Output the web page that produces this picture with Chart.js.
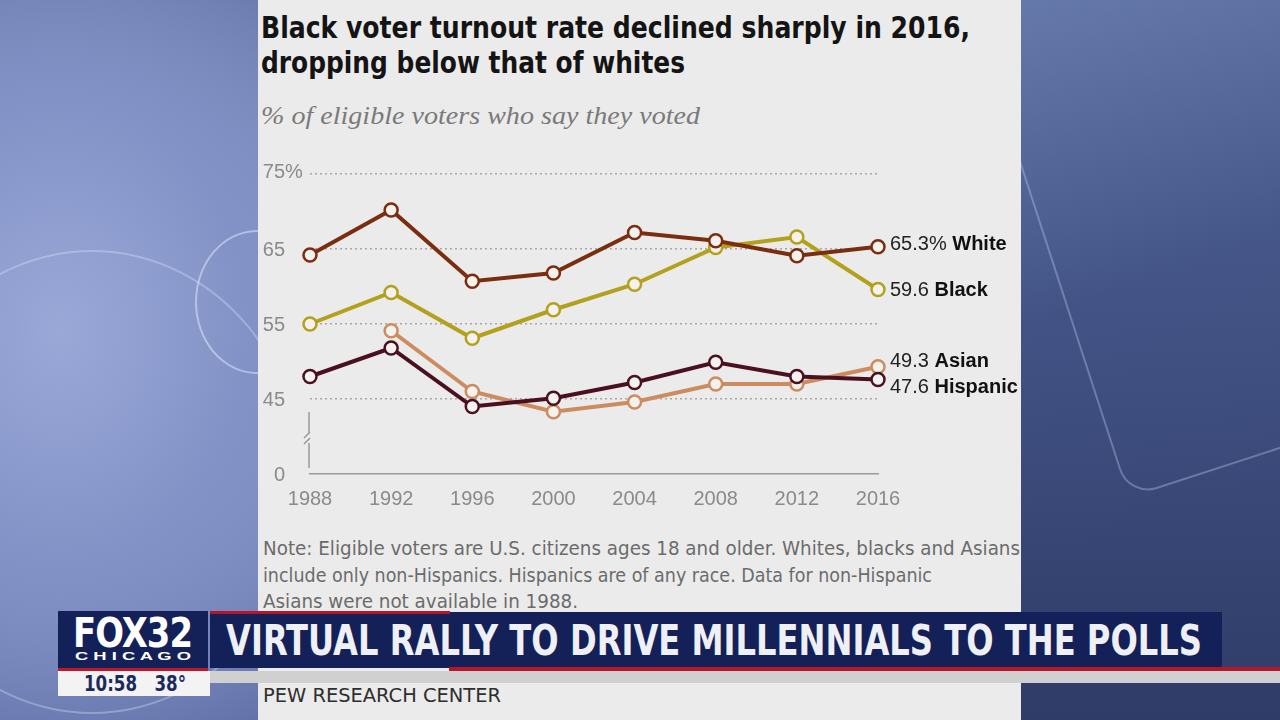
<!DOCTYPE html>
<html>
<head>
<meta charset="utf-8">
<script src="https://cdn.jsdelivr.net/npm/chart.js@4/dist/chart.umd.min.js"></script>
<style>
  html, body { margin: 0; padding: 0; }
  body {
    width: 1280px; height: 720px; overflow: hidden; position: relative;
    background:
      radial-gradient(ellipse 420px 520px at 60px 330px, #9aa8d8 0%, #8392c6 45%, rgba(100,114,168,0) 100%),
      linear-gradient(180deg, #5f6f9f 0%, #7d8dc0 30%, #7586bb 70%, #5a69a0 100%);
    font-family: "Liberation Sans", Arial, sans-serif;
  }
  .abs { position: absolute; }
  .fit { position: absolute; white-space: nowrap; transform-origin: left center; }
  #right-bg {
    left: 1021px; top: 0; width: 259px; height: 720px;
    background:
      linear-gradient(160deg, rgba(120,140,190,0.55) 0%, rgba(70,88,140,0.2) 40%, rgba(40,52,95,0) 70%),
      linear-gradient(180deg, #4f6192 0%, #3f4f80 50%, #2f3c68 100%);
  }
  .ring { position: absolute; border-radius: 50%; border: 2px solid rgba(220,228,255,0.35); }
  #panel { left: 258px; top: 0; width: 763px; height: 720px; background: #ebebeb; }
  .title { font-family: "Liberation Sans Narrow", "DejaVu Sans Condensed", sans-serif; font-weight: bold; font-size: 30px; line-height: 30px; color: #141414; }
  .sub { font-family: "Liberation Serif", "DejaVu Serif", serif; font-style: italic; font-size: 25px; line-height: 28px; color: #7a7a7a; }
  .note { font-family: "Liberation Sans Narrow", "DejaVu Sans Condensed", sans-serif; font-size: 20px; line-height: 26px; color: #6b6b6b; }
  #chart-box { left: 258px; top: 150px; width: 762px; height: 384px; }
  .navy { background: #142058; }
</style>
</head>
<body>
<div id="right-bg" class="abs"></div>
<div class="ring" style="left:-120px; top:250px; width:420px; height:460px;"></div>
<div class="ring" style="left:195px; top:230px; width:120px; height:140px; border-color:rgba(230,235,255,0.5);"></div>
<div class="ring" style="left:1040px; top:-60px; width:300px; height:520px; border-radius:30px; transform:rotate(-18deg); border-color:rgba(200,210,245,0.35);"></div>

<div id="panel" class="abs"></div>

<div class="fit title" data-w="709" style="left:261px; top:13px;">Black voter turnout rate declined sharply in 2016,</div>
<div class="fit title" data-w="424" style="left:261px; top:48px;">dropping below that of whites</div>
<div class="fit sub" data-w="439" style="left:261px; top:102px;">% of eligible voters who say they voted</div>

<div id="chart-box" class="abs"><canvas id="turnoutChart"></canvas></div>

<div class="fit note" data-w="757" style="left:263px; top:535px;">Note: Eligible voters are U.S. citizens ages 18 and older. Whites, blacks and Asians</div>
<div class="fit note" data-w="669" style="left:263px; top:562px;">include only non-Hispanics. Hispanics are of any race. Data for non-Hispanic</div>
<div class="fit note" data-w="315" style="left:263px; top:588px;">Asians were not available in 1988.</div>

<!-- lower third -->
<div class="abs navy" style="left:210px; top:612px; width:1012px; height:56px;"></div>
<div class="abs" style="left:210px; top:611px; width:240px; height:3px; background:#b5162a;"></div>
<div class="abs" style="left:449px; top:667px; width:831px; height:4px; background:#b5162a;"></div>
<div class="abs" style="left:210px; top:671px; width:1070px; height:12px; background:#d0d0d0;"></div>
<div class="fit" data-w="976" style="left:226px; top:618px; line-height:46px; font-family:'Liberation Sans Narrow','DejaVu Sans Condensed',sans-serif; font-weight:bold; font-size:42px; color:#eef0f6;">VIRTUAL RALLY TO DRIVE MILLENNIALS TO THE POLLS</div>

<div class="abs navy" style="left:58px; top:611px; width:150px; height:57px;"></div>
<div class="abs" style="left:58px; top:668px; width:150px; height:3px; background:#c0182a;"></div>
<div class="abs" style="left:58px; top:671px; width:152px; height:25px; background:#f3f3f3;"></div>
<div class="fit" data-w="119" style="left:73px; top:614px; line-height:38px; font-family:'Liberation Sans Narrow','DejaVu Sans Condensed',sans-serif; font-weight:bold; font-size:40px; color:#ffffff; letter-spacing:-1px;">FOX32</div>
<div class="fit" data-w="116" style="left:75px; top:650px; line-height:13px; font-family:'Liberation Sans',sans-serif; font-weight:bold; font-size:11px; color:#ffffff;">C H I C A G O</div>
<div class="fit" data-w="102" style="left:84px; top:672px; line-height:24px; font-family:'Liberation Sans Narrow','DejaVu Sans Condensed',sans-serif; font-weight:bold; font-size:21px; color:#1b2a5c;">10:58&nbsp;&nbsp;&nbsp;38°</div>

<div class="fit" data-w="238" style="left:263px; top:683px; line-height:24px; font-family:'Liberation Sans Narrow','DejaVu Sans Condensed',sans-serif; font-size:20px; color:#2e2e2e;">PEW RESEARCH CENTER</div>

<script>
// data
const years = ["1988", "1992", "1996", "2000", "2004", "2008", "2012", "2016"];
const whiteRate = [64.2, 70.2, 60.7, 61.8, 67.2, 66.1, 64.1, 65.3];
const blackRate = [55.0, 59.2, 53.1, 56.9, 60.3, 65.2, 66.6, 59.6];
const asianRate = [null, 54.1, 46.0, 43.3, 44.6, 47.0, 47.0, 49.3];
const hispanicRate = [48.0, 51.8, 44.0, 45.1, 47.2, 49.9, 48.0, 47.6];
const seriesNames = ["White", "Black", "Asian", "Hispanic"];
const yTicks = [35, 45, 55, 65, 75];
const yTickLabels = ["0", "45", "55", "65", "75"];
const yTopSuffix = "%";

const colors = {
  White: "#7b2d10",
  Black: "#b3a01c",
  Asian: "#cc8c60",
  Hispanic: "#4a1020",
};

// fit text blocks to the widths measured on the reference
function fitText() {
  document.querySelectorAll(".fit").forEach((el) => {
    const target = parseFloat(el.dataset.w);
    const actual = el.getBoundingClientRect().width;
    if (actual > 0) el.style.transform = `scaleX(${target / actual})`;
  });
}

// y labels, axis break and end-of-line labels
const annotate = {
  id: "annotate",
  afterDraw(chart, args, opts) {
    const { ctx, chartArea } = chart;
    const y = chart.scales.y;
    ctx.save();

    // y tick labels
    ctx.font = "20px 'Liberation Sans', Arial, sans-serif";
    ctx.fillStyle = "#8a8a8a";
    ctx.textBaseline = "middle";
    yTicks.forEach((v, i) => {
      const py = y.getPixelForValue(v) + (i === yTicks.length - 1 ? -2 : 1);
      ctx.textAlign = "right";
      ctx.fillText(yTickLabels[i], 27, py);
      if (i === yTicks.length - 1) {
        ctx.textAlign = "left";
        ctx.fillText(yTopSuffix, 27, py);
      }
    });

    // broken axis mark
    const bx = chartArea.left - 1;
    const top = y.getPixelForValue(45) + 13;
    const bottom = chartArea.bottom - 6;
    const mid = (top + bottom) / 2 - 3;
    ctx.strokeStyle = "#9a9a9a";
    ctx.lineWidth = 1.5;
    ctx.beginPath();
    ctx.moveTo(bx, top);
    ctx.lineTo(bx, mid - 4);
    ctx.moveTo(bx, mid + 6);
    ctx.lineTo(bx, bottom);
    ctx.moveTo(bx - 5, mid + 1);
    ctx.lineTo(bx + 1, mid - 5);
    ctx.moveTo(bx - 5, mid + 7);
    ctx.lineTo(bx + 1, mid + 1);
    ctx.stroke();

    // end labels
    const lx = chartArea.right + 12;
    chart.data.datasets.forEach((ds, i) => {
      const meta = chart.getDatasetMeta(i);
      const last = meta.data[meta.data.length - 1];
      const val = ds.data[ds.data.length - 1];
      const py = last.y + (opts.dy[ds.label] || 0);
      const valText = val.toFixed(1) + (ds.label === "White" ? "% " : " ");
      ctx.textAlign = "left";
      ctx.textBaseline = "middle";
      ctx.fillStyle = "#222222";
      ctx.font = "20px 'Liberation Sans', Arial, sans-serif";
      ctx.fillText(valText, lx, py);
      const w = ctx.measureText(valText).width;
      ctx.font = "bold 20px 'Liberation Sans', Arial, sans-serif";
      ctx.fillStyle = "#111111";
      ctx.fillText(ds.label, lx + w, py);
    });
    ctx.restore();
  },
};

function makeSeries(name, values, order) {
  return {
    label: name,
    data: values,
    borderColor: colors[name],
    backgroundColor: "#f4f2ef",
    pointBackgroundColor: "#f4f2ef",
    pointBorderColor: colors[name],
    pointBorderWidth: 2.5,
    pointRadius: 6.5,
    borderWidth: 4,
    tension: 0,
    spanGaps: false,
    clip: false,
    order: order,
  };
}

document.addEventListener("DOMContentLoaded", () => {
  fitText();
  const ctx = document.getElementById("turnoutChart").getContext("2d");
  new Chart(ctx, {
    type: "line",
    data: {
      labels: years,
      datasets: [
        makeSeries(seriesNames[0], whiteRate, 1),
        makeSeries(seriesNames[1], blackRate, 2),
        makeSeries(seriesNames[2], asianRate, 4),
        makeSeries(seriesNames[3], hispanicRate, 3),
      ],
    },
    options: {
      responsive: true,
      maintainAspectRatio: false,
      animation: false,
      layout: { padding: { left: 52, right: 142, top: 24, bottom: 10 } },
      plugins: {
        legend: { display: false },
        tooltip: { enabled: false },
        annotate: { dy: { White: -2, Black: 1, Asian: -5, Hispanic: 8 } },
      },
      scales: {
        x: {
          type: "category",
          offset: false,
          grid: { display: false, drawTicks: false },
          border: { display: true, color: "#9a9a9a", width: 1.5 },
          ticks: {
            color: "#8a8a8a",
            padding: 13,
            maxRotation: 0,
            font: { family: "'Liberation Sans', Arial, sans-serif", size: 20 },
          },
        },
        y: {
          min: 35,
          max: 75,
          afterBuildTicks: (scale) => {
            scale.ticks = yTicks.map((v) => ({ value: v }));
          },
          ticks: { display: false },
          grid: {
            drawTicks: false,
            lineWidth: 1.5,
            color: (c) => (c.tick && c.tick.value === 35 ? "rgba(0,0,0,0)" : "#a8a8a8"),
          },
          border: { display: false, dash: [2, 3] },
        },
      },
    },
    plugins: [annotate],
  });
});
</script>
</body>
</html>
